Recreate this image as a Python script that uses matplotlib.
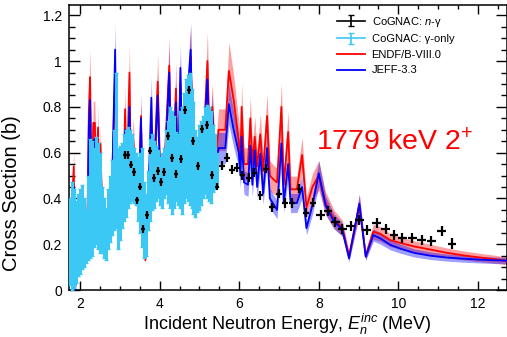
import numpy as np
import matplotlib.pyplot as plt
from matplotlib.ticker import MultipleLocator, FuncFormatter

plt.rcParams['font.family'] = ['Liberation Sans', 'DejaVu Sans']
plt.rcParams['mathtext.fontset'] = 'custom'
plt.rcParams['mathtext.rm'] = 'Liberation Sans'
plt.rcParams['mathtext.it'] = 'Liberation Sans:italic'

# CoGNAC n-gamma points (MeV, b)
ng_e = [3.13, 3.21, 3.29, 3.36, 3.44, 3.51, 3.59, 3.68, 3.76, 3.85,
        3.95, 4.03, 4.12, 4.22, 4.32, 4.42, 4.54, 4.63, 4.74, 4.84,
        4.96, 5.07, 5.19, 5.31, 5.44, 5.57, 5.69, 5.82, 5.95, 6.08,
        6.24, 6.38, 6.53, 6.68, 6.83, 7.00, 7.15, 7.33, 7.51, 7.68,
        7.85, 8.05, 8.23, 8.42, 8.59, 8.80, 9.02, 9.20, 9.46, 9.68,
        9.89, 10.10, 10.35, 10.59, 10.83, 11.09, 11.35]
ng_xs = [0.590, 0.590, 0.548, 0.515, 0.391, 0.452, 0.268, 0.326, 0.609, 0.490,
         0.519, 0.471, 0.515, 0.674, 0.577, 0.507, 0.572, 0.786, 0.875, 0.652,
         0.543, 0.703, 0.720, 0.504, 0.452, 0.543, 0.578, 0.525, 0.534, 0.502,
         0.490, 0.513, 0.413, 0.529, 0.362, 0.420, 0.380, 0.380, 0.443, 0.338,
         0.382, 0.328, 0.346, 0.297, 0.268, 0.278, 0.305, 0.264, 0.293, 0.268,
         0.242, 0.228, 0.228, 0.220, 0.213, 0.258, 0.203]
ng_ex = [0.05] * 25 + [0.07] * 16 + [0.11] * 16
ng_ey = [0.017] * 25 + [0.020] * 16 + [0.022] * 16

# CoGNAC gamma-only points
g_e = [1.75, 1.80, 1.85, 1.90, 1.95, 2.00, 2.05, 2.10, 2.15, 2.20,
       2.25, 2.30, 2.35, 2.40, 2.45, 2.50, 2.55, 2.60, 2.65, 2.70,
       2.75, 2.80, 2.85, 2.90, 2.95, 3.00, 3.05, 3.10, 3.15, 3.20,
       3.25, 3.30, 3.35, 3.40, 3.45, 3.50, 3.55, 3.60, 3.65, 3.70,
       3.75, 3.80, 3.85, 3.90, 3.95, 4.00, 4.05, 4.10, 4.15, 4.20,
       4.25, 4.30, 4.35, 4.40, 4.45, 4.50, 4.55, 4.60, 4.65, 4.70,
       4.75, 4.80, 4.85, 4.90, 4.95, 5.00, 5.05, 5.10, 5.15, 5.20,
       5.25, 5.30, 5.35, 5.40, 5.45]
g_xs = [0.210, 0.235, 0.225, 0.210, 0.240, 0.255, 0.275, 0.250, 0.235, 0.315,
        0.400, 0.400, 0.405, 0.435, 0.410, 0.380, 0.305, 0.270, 0.245, 0.310,
        0.355, 0.405, 0.480, 0.610, 0.400, 0.425, 0.455, 0.490, 0.510, 0.535,
        0.540, 0.535, 0.500, 0.485, 0.440, 0.425, 0.405, 0.305, 0.285, 0.390,
        0.480, 0.515, 0.505, 0.510, 0.505, 0.475, 0.480, 0.510, 0.560, 0.560,
        0.580, 0.555, 0.560, 0.540, 0.525, 0.570, 0.565, 0.620, 0.660, 0.665,
        0.660, 0.620, 0.575, 0.510, 0.505, 0.535, 0.555, 0.580, 0.610, 0.605,
        0.595, 0.580, 0.575, 0.560, 0.525]
g_err = [0.190, 0.235, 0.215, 0.180, 0.180, 0.185, 0.185, 0.150, 0.115, 0.185,
         0.260, 0.250, 0.215, 0.235, 0.230, 0.220, 0.145, 0.130, 0.115, 0.130,
         0.145, 0.165, 0.220, 0.340, 0.220, 0.205, 0.185, 0.190, 0.190, 0.175,
         0.160, 0.145, 0.120, 0.115, 0.140, 0.175, 0.215, 0.165, 0.135, 0.130,
         0.180, 0.165, 0.145, 0.120, 0.105, 0.105, 0.120, 0.110, 0.140, 0.180,
         0.220, 0.225, 0.200, 0.150, 0.155, 0.210, 0.235, 0.240, 0.260, 0.275,
         0.290, 0.260, 0.245, 0.190, 0.165, 0.185, 0.185, 0.180, 0.190, 0.205,
         0.205, 0.200, 0.145, 0.120, 0.075]

# evaluations
e_mod = [1.75, 1.80, 1.84, 1.87, 1.92, 2.00, 2.10, 2.18, 2.22, 2.25,
         2.29, 2.33, 2.37, 2.41, 2.45, 2.48, 2.51, 2.56, 2.65, 2.73,
         2.80, 2.88, 2.93, 3.00, 3.08, 3.13, 3.17, 3.24, 3.28, 3.33,
         3.40, 3.47, 3.53, 3.58, 3.64, 3.70, 3.79, 3.84, 3.95, 4.02,
         4.12, 4.24, 4.30, 4.41, 4.46, 4.52, 4.58, 4.65, 4.72, 4.78,
         4.84, 4.95, 5.05, 5.12, 5.20, 5.26, 5.32, 5.40, 5.48, 5.65,
         5.74, 5.86, 5.99, 6.03, 6.06, 6.12, 6.22, 6.28, 6.33, 6.39,
         6.45, 6.53, 6.60, 6.70, 6.77, 6.88, 6.95, 7.06, 7.12, 7.23,
         7.29, 7.45, 7.58, 7.69, 7.84, 8.00, 8.17, 8.38, 8.59, 8.76,
         9.02, 9.18, 9.37, 9.55, 9.80, 10.06, 10.40, 10.80, 11.20, 11.60,
         12.00, 12.40, 12.75]
endf = [0.30, 0.40, 0.54, 0.05, 0.10, 0.25, 0.30, 0.25, 0.79, 0.93,
        0.40, 0.73, 0.73, 0.45, 0.71, 0.40, 0.64, 0.30, 0.20, 0.30,
        0.45, 0.95, 0.30, 0.40, 0.35, 0.79, 0.45, 0.95, 0.45, 0.67,
        0.45, 0.40, 0.76, 0.30, 0.13, 0.35, 0.70, 0.45, 0.91, 0.45,
        0.55, 0.98, 0.45, 0.88, 0.45, 0.90, 0.50, 0.70, 0.85, 1.02,
        0.55, 0.50, 0.60, 0.70, 1.00, 0.60, 0.80, 0.55, 0.70, 0.70,
        0.957, 0.83, 0.65, 0.57, 0.80, 0.55, 0.55, 0.75, 0.55, 0.67,
        0.54, 0.68, 0.52, 0.76, 0.50, 0.48, 0.47, 0.80, 0.46, 0.69,
        0.44, 0.44, 0.59, 0.36, 0.45, 0.50, 0.38, 0.31, 0.27, 0.15,
        0.37, 0.15, 0.255, 0.245, 0.218, 0.205, 0.190, 0.177, 0.163, 0.152,
        0.143, 0.135, 0.127]
jeff = [0.25, 0.30, 0.45, 0.00, 0.08, 0.22, 0.28, 0.22, 0.72, 0.83,
        0.35, 0.65, 0.66, 0.40, 0.64, 0.36, 0.58, 0.28, 0.18, 0.28,
        0.42, 1.05, 0.28, 0.38, 0.33, 0.70, 0.42, 0.80, 0.42, 0.62,
        0.42, 0.38, 0.75, 0.28, 0.15, 0.32, 0.84, 0.42, 0.85, 0.42,
        0.50, 0.95, 0.42, 0.82, 0.42, 0.97, 0.48, 0.72, 0.90, 1.05,
        0.50, 0.45, 0.55, 0.70, 0.92, 0.55, 0.78, 0.48, 0.62, 0.62,
        0.812, 0.70, 0.60, 0.50, 0.67, 0.47, 0.46, 0.63, 0.46, 0.61,
        0.45, 0.595, 0.42, 0.62, 0.40, 0.37, 0.35, 0.64, 0.38, 0.55,
        0.38, 0.38, 0.45, 0.27, 0.37, 0.51, 0.37, 0.30, 0.265, 0.138,
        0.377, 0.145, 0.24, 0.225, 0.197, 0.180, 0.162, 0.150, 0.142, 0.137,
        0.133, 0.130, 0.128]
endf_unc = 0.13   # relative band width
jeff_unc = 0.11

fig = plt.figure(figsize=(5.07, 3.37), dpi=100)
ax = fig.add_axes([69 / 507, 47 / 337, 437.5 / 507, 285 / 337])

e_mod_a = np.array(e_mod)
endf_a = np.array(endf)
jeff_a = np.array(jeff)
ax.fill_between(e_mod_a, endf_a * (1 - endf_unc), endf_a * (1 + endf_unc),
                color=(1, 0, 0), alpha=0.38, lw=0, zorder=1)
ax.fill_between(e_mod_a, jeff_a * (1 - jeff_unc), jeff_a * (1 + jeff_unc),
                color=(0, 0, 1), alpha=0.38, lw=0, zorder=2)
ax.plot(e_mod, endf, color='#ff0000', lw=1.3, zorder=3)
ax.plot(e_mod, jeff, color='#0000ff', lw=1.3, zorder=4)

cyan = '#3cc8f5'
ax.errorbar(g_e, g_xs, yerr=g_err, xerr=0.025, fmt='none', ecolor=cyan,
            elinewidth=2.2, capsize=1.2, zorder=5)
ax.errorbar(ng_e, ng_xs, xerr=ng_ex, yerr=ng_ey, fmt='none', ecolor='black',
            elinewidth=1.6, capsize=0, zorder=6)

# legend proxies
h1 = ax.errorbar([np.nan], [np.nan], yerr=[1], fmt='-', color='black',
                 lw=1.2, capsize=2.5)
h2 = ax.errorbar([np.nan], [np.nan], yerr=[1], fmt='-', color=cyan,
                 lw=1.2, capsize=2.5)
h3, = ax.plot([], [], color='#ff0000', lw=1.3)
h4, = ax.plot([], [], color='#0000ff', lw=1.3)
ax.legend([h1, h2, h3, h4],
          ['CoGNAC: $n$-γ', 'CoGNAC: γ-only', 'ENDF/B-VIII.0', 'JEFF-3.3'],
          loc='upper left', bbox_to_anchor=(0.6, 0.985), frameon=False,
          fontsize=8, handlelength=2.5, handletextpad=0.6,
          labelspacing=0.5, borderpad=0)

ax.text(7.92, 0.61, '1779 keV 2$^{+}$', color='red', fontsize=20.5)

ax.set_xlim(1.72, 12.72)
ax.set_ylim(0, 1.245)
ax.xaxis.set_major_locator(MultipleLocator(2))
ax.xaxis.set_minor_locator(MultipleLocator(0.5))
ax.yaxis.set_major_locator(MultipleLocator(0.2))
ax.yaxis.set_minor_locator(MultipleLocator(0.05))
ax.xaxis.set_major_formatter(FuncFormatter(lambda v, p: '%g' % v))
ax.yaxis.set_major_formatter(FuncFormatter(lambda v, p: '%g' % round(v, 2)))
ax.tick_params(which='both', direction='in', top=True, right=True,
               labelsize=10, width=1.0)
ax.tick_params(axis='y', which='major', length=8, pad=5)
ax.tick_params(axis='y', which='minor', length=4)
ax.tick_params(axis='x', which='major', length=6.5, pad=5)
ax.tick_params(axis='x', which='minor', length=3)
for s in ax.spines.values():
    s.set_linewidth(1.1)

ax.set_xlabel('Incident Neutron Energy, $E_{n}^{inc}$ (MeV)', fontsize=13)
ax.xaxis.set_label_coords(0.5, -0.078)
ax.set_ylabel('Cross Section (b)', fontsize=14.5)
ax.yaxis.set_label_coords(-0.11, 0.34)

fig.savefig('out.png', dpi=100)
